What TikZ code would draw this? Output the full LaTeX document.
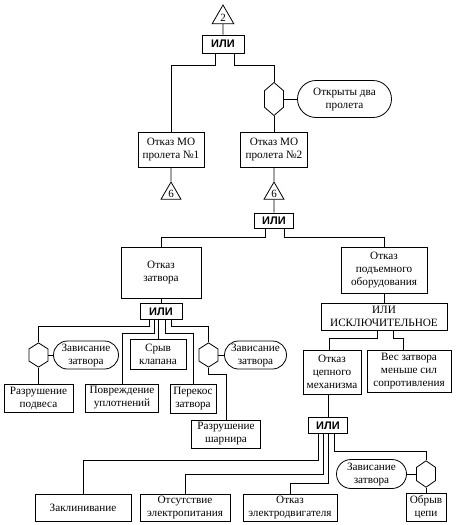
\documentclass[tikz,border=0pt]{standalone}
\usepackage{fontspec}
\setmainfont{Liberation Serif}
\newfontfamily\gatefont{Liberation Sans}
\usetikzlibrary{shapes.geometric, shapes.misc}

\begin{document}
\begin{tikzpicture}[x=1pt, y=-1pt, line width=0.8pt,
    sz/.style 2 args={minimum width=#1pt, minimum height=#2pt},
    ev/.style={draw, align=center, inner sep=0.5pt, font=\fontsize{11.2}{13}\selectfont},
    cond/.style={ev, rounded rectangle},
    gate/.style={draw, inner sep=0pt, font=\gatefont\bfseries\fontsize{11}{12}\selectfont},
    hexa/.style={draw, regular polygon, regular polygon sides=6, shape border rotate=90, minimum size=22pt, inner sep=0pt},
    tri/.style={draw, regular polygon, regular polygon sides=3, minimum size=25pt, inner sep=0pt, font=\fontsize{11}{12}\selectfont}]
    \useasboundingbox (0,0) rectangle (458,525);
    \node[tri] (t2) at (223,17.5) {2};
    \node[gate, sz={42}{18}] (or1) at (223,44) {ИЛИ};
    \node[hexa, yscale=1.5] (h1) at (274,99) {};
    \node[cond, sz={95}{37}] (c1) at (344.5,99) {Открыты два\\пролета};
    \node[ev, sz={66}{35}] (mo1) at (171,149.5) {Отказ МО\\пролета №1};
    \node[ev, sz={67}{35}] (mo2) at (274,149.5) {Отказ МО\\пролета №2};
    \node[tri, minimum size=23pt] (t6a) at (171,193.5) {6};
    \node[tri, minimum size=23pt] (t6b) at (274,193.5) {6};
    \node[gate, sz={39}{15}] (or2) at (274,220.5) {ИЛИ};
    \node[ev, sz={80}{51}] (oz) at (161,272.5) {Отказ\\затвора};
    \node[ev, sz={86}{46}] (opo) at (384,270) {Отказ\\подъемного\\оборудования};
    \node[gate, sz={42}{16}] (or3) at (161,311.5) {ИЛИ};
    \node[ev, sz={126}{27}] (orx) at (384,316.5) {ИЛИ\\ИСКЛЮЧИТЕЛЬНОЕ};
    \node[hexa, yscale=1.1] (h2) at (38.5,355) {};
    \node[cond, sz={66}{28}] (c2) at (86,355) {Зависание\\затвора};
    \node[ev, sz={56}{30}] (sk) at (158,354) {Срыв\\клапана};
    \node[hexa, yscale=1.1] (h3) at (208.5,355) {};
    \node[cond, sz={63}{28}] (c3) at (255.5,355) {Зависание\\затвора};
    \node[ev, sz={69}{28}] (rp) at (38.5,398) {Разрушение\\подвеса};
    \node[ev, sz={73}{28}] (pu) at (122,398) {Повреждение\\уплотнений};
    \node[ev, sz={46}{29}] (pz) at (193,398.5) {Перекос\\затвора};
    \node[ev, sz={69}{28}] (rsh) at (226,434) {Разрушение\\шарнира};
    \node[ev, sz={58}{44}] (ocm) at (332,372) {Отказ\\цепного\\механизма};
    \node[ev, sz={84}{42}] (vz) at (409,371) {Вес затвора\\меньше сил\\сопротивления};
    \node[gate, sz={39}{16}] (or4) at (328,425.5) {ИЛИ};
    \node[ev, sz={96}{27}] (zk) at (83,507.5) {Заклинивание};
    \node[ev, sz={90}{27}] (oe) at (185,507.5) {Отсутствие\\электропитания};
    \node[ev, sz={94}{27}] (od) at (290,507.5) {Отказ\\электродвигателя};
    \node[cond, sz={71}{29}] (c4) at (371.5,474) {Зависание\\затвора};
    \node[hexa, yscale=1.2] (h4) at (426,474) {};
    \node[ev, sz={40}{28}] (oc) at (426,507) {Обрыв\\цепи};
    \draw (t2.south) -- (or1.north);
    \draw ([xshift=-8pt]or1.south) -- ++(0,12) -| (mo1.north);
    \draw ([xshift=11pt]or1.south) -- ++(0,12) -| (h1.north);
    \draw (h1.south) -- (mo2.north);
    \draw (h1.east) -- (c1.west);
    \draw (mo1.south) -- (t6a.north);
    \draw (mo2.south) -- (t6b.north);
    \draw (t6b.south) -- (or2.north);
    \draw ([xshift=-9pt]or2.south) -- ++(0,9) -| (oz.north);
    \draw ([xshift=10pt]or2.south) -- ++(0,9) -| (opo.north);
    \draw (oz.south) -- (or3.north);
    \draw (opo.south) -- (orx.north);
    \draw ([xshift=-12pt]or3.south) -- ++(0,6) -| (h2.north);
    \draw ([xshift=-7pt]or3.south) -- ++(0,13) -| (pu.north);
    \draw ([xshift=-3pt]or3.south) -- (sk.north);
    \draw ([xshift=4pt]or3.south) -- ++(0,13) -| (pz.north);
    \draw ([xshift=10pt]or3.south) -- ++(0,6) -| (h3.north);
    \draw (h2.east) -- (c2.west);
    \draw (h2.south) -- (rp.north);
    \draw (h3.east) -- (c3.west);
    \draw (h3.south) -- ++(0,7) -| (rsh.north);
    \draw ([xshift=-7pt]orx.south) -- ++(0,8) -| ([xshift=-3pt]ocm.north);
    \draw ([xshift=9pt]orx.south) -- ++(0,8) -| ([xshift=-6pt]vz.north);
    \draw ([xshift=-4pt]ocm.south) -- (or4.north);
    \draw ([xshift=-10pt]or4.south) -- ++(0,26) -| (zk.north);
    \draw ([xshift=-5pt]or4.south) -- ++(0,40) -| (oe.north);
    \draw (or4.south) -- ++(0,49) -| (od.north);
    \draw ([xshift=6pt]or4.south) -- ++(0,17) -| (h4.north);
    \draw (c4.east) -- (h4.west);
    \draw (h4.south) -- (oc.north);
\end{tikzpicture}
\end{document}
